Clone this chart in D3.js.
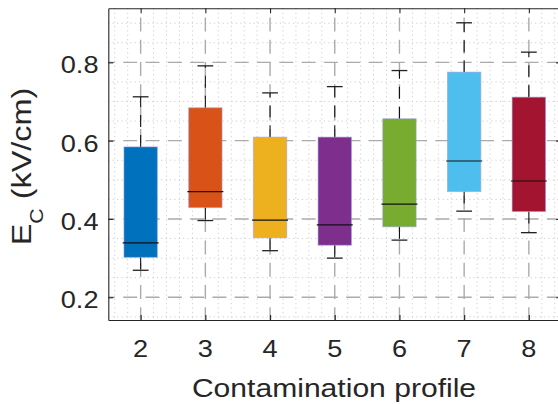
<!DOCTYPE html>
<html>
<head>
<meta charset="utf-8">
<script src="https://cdn.jsdelivr.net/npm/d3@7"></script>
<style>
  html, body { margin: 0; padding: 0; background: #ffffff; }
  svg { display: block; }
  text { font-family: "Liberation Sans", Arial, Helvetica, sans-serif; fill: #262626; }
</style>
</head>
<body>
<div id="chart"></div>
<script>
// Box-plot statistics of the coercive field per contamination profile
const profiles     = [2, 3, 4, 5, 6, 7, 8];
const whiskerHigh  = [0.712, 0.791, 0.722, 0.738, 0.779, 0.901, 0.826];
const quartile3    = [0.584, 0.684, 0.609, 0.609, 0.656, 0.775, 0.711];
const medians      = [0.339, 0.470, 0.397, 0.385, 0.438, 0.548, 0.497];
const quartile1    = [0.302, 0.429, 0.352, 0.333, 0.380, 0.470, 0.419];
const whiskerLow   = [0.269, 0.396, 0.319, 0.300, 0.346, 0.420, 0.365];
const boxColors    = ["#0072BD", "#D95319", "#EDB120", "#7E2F8E", "#77AC30", "#4DBEEE", "#A2142F"];
const yTickValues  = [0.2, 0.4, 0.6, 0.8];
const xLabel = "Contamination profile";

const W = 558, H = 404;
const plot = { left: 108.3, right: 561.2, top: 8.3, bottom: 320 };
const stretch = 1.18;   // wide sans-serif lettering

const x = d3.scaleLinear().domain([1.5, 8.5]).range([plot.left, plot.right]);
const y = d3.scaleLinear().domain([0.142, 0.938]).range([plot.bottom, plot.top]);

const svg = d3.select("#chart").append("svg")
  .attr("width", W).attr("height", H);

const rows = profiles.map((p, i) => ({
  p, hi: whiskerHigh[i], q3: quartile3[i], med: medians[i],
  q1: quartile1[i], lo: whiskerLow[i], color: boxColors[i]
}));

// minor grid (dotted)
const grid = svg.append("g");
const minorY = d3.range(0.15, 0.93, 0.05).map(v => +v.toFixed(2))
  .filter(v => Math.abs(v * 5 - Math.round(v * 5)) > 1e-6);
const minorX = d3.range(1.6, 8.45, 0.2).map(v => +v.toFixed(1))
  .filter(v => Math.abs(v - Math.round(v)) > 1e-6);
grid.selectAll("line.minY").data(minorY).join("line")
  .attr("x1", plot.left).attr("x2", plot.right)
  .attr("y1", d => y(d)).attr("y2", d => y(d))
  .attr("stroke", "#cdcdcd").attr("stroke-width", 1)
  .attr("stroke-dasharray", "1.2,3.2");
grid.selectAll("line.minX").data(minorX).join("line")
  .attr("x1", d => x(d)).attr("x2", d => x(d))
  .attr("y1", plot.top).attr("y2", plot.bottom)
  .attr("stroke", "#cdcdcd").attr("stroke-width", 1)
  .attr("stroke-dasharray", "1.2,3.2");

// major grid (dashed)
grid.selectAll("line.majY").data(yTickValues).join("line")
  .attr("x1", plot.left).attr("x2", plot.right)
  .attr("y1", d => y(d)).attr("y2", d => y(d))
  .attr("stroke", "#ababab").attr("stroke-width", 1.4)
  .attr("stroke-dasharray", "14,8.3").attr("stroke-dashoffset", 7.4);
grid.selectAll("line.majX").data(profiles).join("line")
  .attr("x1", d => x(d)).attr("x2", d => x(d))
  .attr("y1", plot.top).attr("y2", plot.bottom)
  .attr("stroke", "#ababab").attr("stroke-width", 1.4)
  .attr("stroke-dasharray", "14,8.3").attr("stroke-dashoffset", 13.2);

// boxes
const boxHalf = 0.258, medHalf = 0.278, capHalf = 0.122;
const marks = svg.append("g");
const g = marks.selectAll("g.box").data(rows).join("g");

// whiskers
g.append("line")
  .attr("x1", d => x(d.p)).attr("x2", d => x(d.p))
  .attr("y1", d => y(d.q3)).attr("y2", d => y(d.hi))
  .attr("stroke", "#111").attr("stroke-width", 1.1)
  .attr("stroke-dasharray", "12,8");
g.append("line")
  .attr("x1", d => x(d.p)).attr("x2", d => x(d.p))
  .attr("y1", d => y(d.q1)).attr("y2", d => y(d.lo))
  .attr("stroke", "#111").attr("stroke-width", 1.1)
  .attr("stroke-dasharray", "12,8");
// caps
g.append("line")
  .attr("x1", d => x(d.p - capHalf)).attr("x2", d => x(d.p + capHalf))
  .attr("y1", d => y(d.hi)).attr("y2", d => y(d.hi))
  .attr("stroke", "#222").attr("stroke-width", 1.3);
g.append("line")
  .attr("x1", d => x(d.p - capHalf)).attr("x2", d => x(d.p + capHalf))
  .attr("y1", d => y(d.lo)).attr("y2", d => y(d.lo))
  .attr("stroke", "#222").attr("stroke-width", 1.3);
// filled boxes
g.append("rect")
  .attr("x", d => x(d.p - boxHalf))
  .attr("width", d => x(d.p + boxHalf) - x(d.p - boxHalf))
  .attr("y", d => y(d.q3))
  .attr("height", d => y(d.q1) - y(d.q3))
  .attr("fill", d => d.color)
  .attr("stroke", "#9a9ae0").attr("stroke-opacity", 0.55).attr("stroke-width", 1);
// medians
g.append("line")
  .attr("x1", d => x(d.p - medHalf)).attr("x2", d => x(d.p + medHalf))
  .attr("y1", d => y(d.med)).attr("y2", d => y(d.med))
  .attr("stroke", "#111").attr("stroke-width", 1.2);

// axes (ticks point inward on all four sides)
const axisColor = "#262626";
function styleAxis(sel) {
  sel.select(".domain").attr("stroke", axisColor).attr("stroke-width", 1.1);
  sel.selectAll(".tick line").attr("stroke", axisColor).attr("stroke-width", 1.1);
}
const yAxis = svg.append("g").attr("transform", `translate(${plot.left},0)`)
  .call(d3.axisLeft(y).tickValues(yTickValues).tickSizeInner(-5).tickSizeOuter(0)
    .tickFormat(d3.format(".1f")))
  .call(styleAxis);
yAxis.selectAll(".tick text")
  .attr("x", null).attr("dy", null)
  .attr("text-anchor", "end")
  .attr("transform", `translate(-9.8,10.4) scale(${stretch},1)`)
  .style("font-size", "23px").attr("fill", "#262626");

const yAxisR = svg.append("g").attr("transform", `translate(${plot.right},0)`)
  .call(d3.axisRight(y).tickValues(yTickValues).tickSizeInner(-5).tickSizeOuter(0).tickFormat(""))
  .call(styleAxis);

const xAxis = svg.append("g").attr("transform", `translate(0,${plot.bottom})`)
  .call(d3.axisBottom(x).tickValues(profiles).tickSizeInner(-5).tickSizeOuter(0)
    .tickFormat(d3.format("d")))
  .call(styleAxis);
xAxis.selectAll(".tick text")
  .attr("y", null).attr("dy", null)
  .attr("text-anchor", "middle")
  .attr("transform", `translate(-0.5,36.7) scale(${stretch},1)`)
  .style("font-size", "23px").attr("fill", "#262626");

const xAxisT = svg.append("g").attr("transform", `translate(0,${plot.top})`)
  .call(d3.axisTop(x).tickValues(profiles).tickSizeInner(-5).tickSizeOuter(0).tickFormat(""))
  .call(styleAxis);

// axis titles
svg.append("text")
  .attr("text-anchor", "middle")
  .attr("transform", `translate(334,396.7) scale(${stretch},1)`)
  .style("font-size", "25.5px")
  .text(xLabel);

const yTitle = svg.append("text")
  .attr("text-anchor", "middle")
  .attr("transform", `translate(30.7,166.5) rotate(-90) scale(${stretch},1)`)
  .style("font-size", "27.5px");
yTitle.append("tspan").text("E");
yTitle.append("tspan").attr("dy", 12.5).style("font-size", "18px").text("C");
yTitle.append("tspan").attr("dy", -12.5).text(" (kV/cm)");
</script>
</body>
</html>
